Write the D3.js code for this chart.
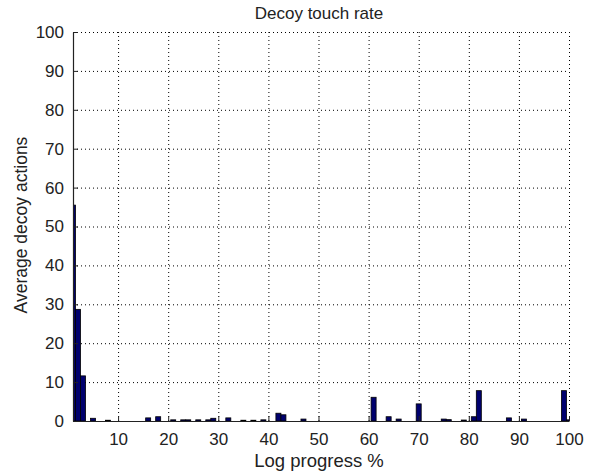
<!DOCTYPE html>
<html lang="en">
<head>
    <meta charset="UTF-8">
    <title>Decoy touch rate</title>
    <script src="https://cdn.jsdelivr.net/npm/d3@7"></script>
    <style>
        body{ margin: 0; background: #fff; }
        text{ font-family: "Liberation Sans", Arial, sans-serif; fill: #222; }
        .grid line{ stroke: #000; stroke-dasharray: 1,3; stroke-width: 1; }
    </style>
</head>
<body>
<svg id="fig" width="597" height="473"></svg>

<script>
    // log progress bins (percent) and average decoy actions per bin
    let progress = d3.range(1, 101)
    let decoy_actions = [
        55.5, 28.7, 11.6, 0, 0.7, 0, 0, 0.2, 0, 0,
        0, 0, 0, 0, 0, 0.8, 0, 1.1, 0, 0,
        0.3, 0, 0.3, 0.3, 0, 0.3, 0, 0.3, 0.7, 0,
        0, 0.8, 0, 0, 0.2, 0, 0.2, 0, 0.3, 0,
        0, 2.0, 1.6, 0, 0, 0, 0.5, 0, 0, 0,
        0, 0, 0, 0, 0, 0, 0, 0, 0, 0,
        6.1, 0, 0, 1.1, 0, 0.5, 0, 0, 0, 4.4,
        0, 0, 0, 0, 0.5, 0.35, 0, 0, 0.25, 0,
        1.1, 7.8, 0, 0, 0, 0, 0, 0.8, 0, 0,
        0.5, 0, 0, 0, 0, 0, 0, 0, 7.8, 0.3
    ]
    let x_ticks = [10, 20, 30, 40, 50, 60, 70, 80, 90, 100]
    let y_ticks = [0, 10, 20, 30, 40, 50, 60, 70, 80, 90, 100]

    let margin = {left: 73, right: 28, top: 32, bottom: 52}
    let width = 597, height = 473

    let svg = d3.select("#fig")

    let x = d3.scaleLinear().domain([1, 100]).range([margin.left, width - margin.right])
    let y = d3.scaleLinear().domain([0, 100]).range([height - margin.bottom, margin.top])

    // dotted grid
    let grid = svg.append("g").attr("class", "grid")
    grid.selectAll(".gx")
        .data(x_ticks)
        .enter()
        .append("line")
        .attr("x1", d => x(d) + 0.5).attr("x2", d => x(d) + 0.5)
        .attr("y1", y(0)).attr("y2", y(100))
    grid.selectAll(".gy")
        .data(y_ticks.filter(d => d > 0))
        .enter()
        .append("line")
        .attr("x1", x(1)).attr("x2", x(100))
        .attr("y1", d => y(d) + 0.5).attr("y2", d => y(d) + 0.5)

    // bars, clipped to the axes box
    svg.append("clipPath").attr("id", "clip")
        .append("rect")
        .attr("x", x(1)).attr("y", y(100))
        .attr("width", x(100) - x(1)).attr("height", y(0) - y(100))

    let bw = x(2) - x(1)
    svg.append("g")
        .attr("clip-path", "url(#clip)")
        .selectAll("rect")
        .data(progress.map((p, i) => ({p: p, v: decoy_actions[i]})).filter(d => d.v > 0))
        .enter()
        .append("rect")
        .attr("x", d => x(d.p) - bw / 2)
        .attr("y", d => y(d.v))
        .attr("width", bw)
        .attr("height", d => y(0) - y(d.v))
        .attr("fill", "#00006e")
        .attr("stroke", "#000")
        .attr("stroke-width", 0.8)

    // axes (left and bottom only, ticks inward)
    let xAxis = svg.append("g")
        .attr("transform", "translate(0," + y(0) + ")")
        .call(d3.axisBottom(x).tickValues(x_ticks).tickSizeInner(-5).tickSizeOuter(0).tickPadding(12))
    let yAxis = svg.append("g")
        .attr("transform", "translate(" + x(1) + ",0)")
        .call(d3.axisLeft(y).tickValues(y_ticks).tickSizeInner(-5).tickSizeOuter(0).tickPadding(9))

    ;[xAxis, yAxis].forEach(function (a) {
        a.select(".domain").attr("stroke", "#222").attr("stroke-width", 1.2)
        a.selectAll(".tick line").attr("stroke", "#222")
        a.selectAll("text")
            .style("font-family", '"Liberation Sans", Arial, sans-serif')
            .style("font-size", "17px")
            .attr("fill", "#333")
    })

    // title and labels
    svg.append("text")
        .attr("x", 319).attr("y", 19)
        .attr("text-anchor", "middle")
        .style("font-size", "17px")
        .text("Decoy touch rate")
    svg.append("text")
        .attr("x", 319).attr("y", 467)
        .attr("text-anchor", "middle")
        .style("font-size", "18.5px")
        .text("Log progress %")
    svg.append("text")
        .attr("transform", "translate(27," + 225 + ") rotate(-90)")
        .attr("text-anchor", "middle")
        .style("font-size", "17.5px")
        .text("Average decoy actions")
</script>
</body>
</html>
